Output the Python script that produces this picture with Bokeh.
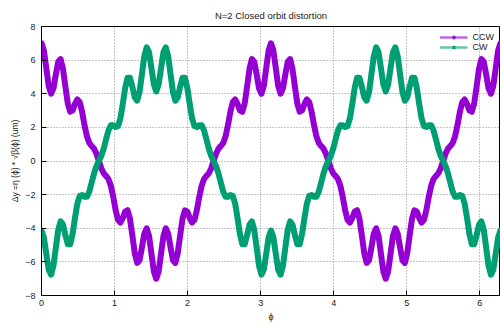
import numpy as np
from bokeh.plotting import figure
from bokeh.models import Range1d, Legend, LegendItem, FixedTicker
from bokeh.embed import file_html
from bokeh.resources import INLINE

# phi samples (0 .. 2*pi, 193 samples)
phi = np.linspace(0, 2 * np.pi, 193)

ccw = [
    7.00, 6.57, 5.52, 4.47, 4.00, 4.32, 5.15, 5.90, 6.06, 5.47, 4.42, 3.43, 2.93, 3.01, 3.39, 3.66,
    3.50, 2.91, 2.13, 1.47, 1.07, 0.89, 0.73, 0.43, 0.00, -0.43, -0.73, -0.89, -1.07, -1.47, -2.13, -2.91,
    -3.50, -3.66, -3.39, -3.01, -2.93, -3.43, -4.42, -5.47, -6.06, -5.90, -5.15, -4.32, -4.00, -4.47, -5.52, -6.57,
    -7.00,
    -6.57, -5.52, -4.47, -4.00, -4.32, -5.15, -5.90, -6.06, -5.47, -4.42, -3.43, -2.93, -3.01, -3.39, -3.66, -3.50,
    -2.91, -2.13, -1.47, -1.07, -0.89, -0.73, -0.43, 0.00, 0.43, 0.73, 0.89, 1.07, 1.47, 2.13, 2.91, 3.50,
    3.66, 3.39, 3.01, 2.93, 3.43, 4.42, 5.47, 6.06, 5.90, 5.15, 4.32, 4.00, 4.47, 5.52, 6.57, 7.00,
    6.57, 5.52, 4.47, 4.00, 4.32, 5.15, 5.90, 6.06, 5.47, 4.42, 3.43, 2.93, 3.01, 3.39, 3.66, 3.50,
    2.91, 2.13, 1.47, 1.07, 0.89, 0.73, 0.43, 0.00, -0.43, -0.73, -0.89, -1.07, -1.47, -2.13, -2.91, -3.50,
    -3.66, -3.39, -3.01, -2.93, -3.43, -4.42, -5.47, -6.06, -5.90, -5.15, -4.32, -4.00, -4.47, -5.52, -6.57, -7.00,
    -6.57, -5.52, -4.47, -4.00, -4.32, -5.15, -5.90, -6.06, -5.47, -4.42, -3.43, -2.93, -3.01, -3.39, -3.66, -3.50,
    -2.91, -2.13, -1.47, -1.07, -0.89, -0.73, -0.43, 0.00, 0.43, 0.73, 0.89, 1.07, 1.47, 2.13, 2.91, 3.50,
    3.66, 3.39, 3.01, 2.93, 3.43, 4.42, 5.47, 6.06, 5.90, 5.15, 4.32, 4.00, 4.47, 5.52, 6.57, 7.00,
]

cw = [
    -4.14, -4.55, -5.52, -6.46, -6.76, -6.23, -5.15, -4.09, -3.59, -3.79, -4.42, -4.95, -4.95, -4.34, -3.39, -2.53,
    -2.07, -2.02, -2.13, -2.12, -1.81, -1.28, -0.73, -0.30, 0.00, 0.30, 0.73, 1.28, 1.81, 2.12, 2.13, 2.02,
    2.07, 2.53, 3.39, 4.34, 4.95, 4.95, 4.42, 3.79, 3.59, 4.09, 5.15, 6.23, 6.76, 6.46, 5.52, 4.55,
    4.14,
    4.55, 5.52, 6.46, 6.76, 6.23, 5.15, 4.09, 3.59, 3.79, 4.42, 4.95, 4.95, 4.34, 3.39, 2.53, 2.07,
    2.02, 2.13, 2.12, 1.81, 1.28, 0.73, 0.30, 0.00, -0.30, -0.73, -1.28, -1.81, -2.12, -2.13, -2.02, -2.07,
    -2.53, -3.39, -4.34, -4.95, -4.95, -4.42, -3.79, -3.59, -4.09, -5.15, -6.23, -6.76, -6.46, -5.52, -4.55, -4.14,
    -4.55, -5.52, -6.46, -6.76, -6.23, -5.15, -4.09, -3.59, -3.79, -4.42, -4.95, -4.95, -4.34, -3.39, -2.53, -2.07,
    -2.02, -2.13, -2.12, -1.81, -1.28, -0.73, -0.30, 0.00, 0.30, 0.73, 1.28, 1.81, 2.12, 2.13, 2.02, 2.07,
    2.53, 3.39, 4.34, 4.95, 4.95, 4.42, 3.79, 3.59, 4.09, 5.15, 6.23, 6.76, 6.46, 5.52, 4.55, 4.14,
    4.55, 5.52, 6.46, 6.76, 6.23, 5.15, 4.09, 3.59, 3.79, 4.42, 4.95, 4.95, 4.34, 3.39, 2.53, 2.07,
    2.02, 2.13, 2.12, 1.81, 1.28, 0.73, 0.30, 0.00, -0.30, -0.73, -1.28, -1.81, -2.12, -2.13, -2.02, -2.07,
    -2.53, -3.39, -4.34, -4.95, -4.95, -4.42, -3.79, -3.59, -4.09, -5.15, -6.23, -6.76, -6.46, -5.52, -4.55, -4.14,
]

x_ticks = [0, 1, 2, 3, 4, 5, 6]
y_ticks = [-8, -6, -4, -2, 0, 2, 4, 6, 8]

CCW_COLOR = "#9400D3"
CW_COLOR = "#009E73"
FONT = "Liberation Sans"

p = figure(width=500, height=325, output_backend="svg", toolbar_location=None,
           x_range=Range1d(0, 2 * np.pi), y_range=Range1d(-8, 8),
           min_border_left=41, min_border_right=0, min_border_top=26, min_border_bottom=30,
           background_fill_color="white", border_fill_color="white")

p.title.text = "N=2 Closed orbit distortion"
p.title.align = "center"
p.title.vertical_align = "middle"
p.title.text_font = FONT
p.title.text_font_size = "9.5px"
p.title.text_font_style = "normal"
p.title.text_color = "#222222"

p.outline_line_color = "black"
p.outline_line_width = 1
p.outline_line_alpha = 1

for ax in (p.xaxis, p.yaxis):
    ax.major_label_text_font = FONT
    ax.major_label_text_font_size = "9px"
    ax.major_label_text_color = "#222222"
    ax.axis_label_text_font = FONT
    ax.axis_label_text_font_style = "normal"
    ax.axis_label_text_color = "#222222"
    ax.major_tick_in = 5
    ax.major_tick_out = 0
    ax.major_tick_line_color = "black"
    ax.minor_tick_line_color = None
    ax.axis_line_color = "black"

p.xaxis.ticker = FixedTicker(ticks=x_ticks)
p.yaxis.ticker = FixedTicker(ticks=y_ticks)
p.xaxis.axis_label = "ϕ"
p.yaxis.axis_label = "Δy =η (ϕ) * √β(ϕ) (um)"
p.xaxis.axis_label_text_font_size = "9px"
p.yaxis.axis_label_text_font_size = "8.5px"
p.xaxis.major_label_standoff = 4
p.yaxis.major_label_standoff = 6
p.xaxis.axis_label_standoff = 3
p.yaxis.axis_label_standoff = 2

p.grid.grid_line_color = "#8c8c8c"
p.grid.grid_line_dash = "1 2"
p.grid.grid_line_width = 1

# data
p.line(phi, ccw, line_color=CCW_COLOR, line_width=6, line_join="round", line_cap="round")
p.line(phi, cw, line_color=CW_COLOR, line_width=6, line_join="round", line_cap="round")

# legend sample glyphs (nothing drawn in the plot area)
nan = [np.nan]
l1 = p.line(nan, nan, line_color=CCW_COLOR, line_width=2.5, line_alpha=0.6)
s1 = p.scatter(nan, nan, marker="cross", size=6, line_color=CCW_COLOR, line_width=1.5)
l2 = p.line(nan, nan, line_color=CW_COLOR, line_width=2.5, line_alpha=0.6)
s2 = p.scatter(nan, nan, marker="x", size=6, line_color=CW_COLOR, line_width=1.5)

legend = Legend(items=[LegendItem(label="CCW", renderers=[l1, s1]),
                       LegendItem(label="CW", renderers=[l2, s2])],
                location="top_right",
                label_text_font=FONT, label_text_font_size="9px", label_text_color="#222222",
                glyph_width=28, glyph_height=10, label_height=10, spacing=0,
                padding=2, margin=4, border_line_alpha=0, background_fill_alpha=0)
p.add_layout(legend)

open("out.html", "w").write(file_html(p, INLINE))
